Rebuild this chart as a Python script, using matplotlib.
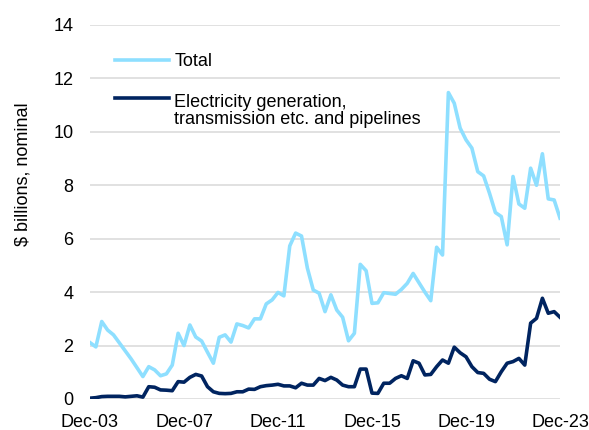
import numpy as np
import matplotlib
matplotlib.use("Agg")
import matplotlib.pyplot as plt
from matplotlib.legend_handler import HandlerLine2D

plt.rcParams['font.family'] = ['Liberation Sans', 'DejaVu Sans']

# quarterly, Dec-03 .. Dec-23 (81 quarters)
total = [2.11, 1.95, 2.9, 2.58, 2.4, 2.1, 1.8, 1.5, 1.17, 0.84,
         1.21, 1.09, 0.87, 0.94, 1.27, 2.46, 2.0, 2.77, 2.32, 2.17,
         1.75, 1.34, 2.31, 2.4, 2.13, 2.81, 2.75, 2.66, 3.0, 3.0,
         3.56, 3.71, 3.99, 3.86, 5.73, 6.21, 6.1, 4.9, 4.08, 3.96,
         3.27, 3.9, 3.33, 3.06, 2.18, 2.46, 5.04, 4.8, 3.58, 3.6,
         3.98, 3.95, 3.92, 4.1, 4.33, 4.7, 4.35, 4.0, 3.68, 5.68,
         5.39, 11.47, 11.07, 10.14, 9.7, 9.39, 8.51, 8.35, 7.7, 6.98,
         6.83, 5.77, 8.33, 7.3, 7.14, 8.64, 8.0, 9.18, 7.49, 7.45,
         6.77]
electricity = [0.03, 0.05, 0.09, 0.1, 0.1, 0.1, 0.08, 0.1, 0.12, 0.07,
               0.46, 0.44, 0.34, 0.33, 0.31, 0.65, 0.63, 0.81, 0.92, 0.86,
               0.46, 0.27, 0.21, 0.2, 0.21, 0.27, 0.27, 0.37, 0.36, 0.46,
               0.5, 0.52, 0.55, 0.49, 0.49, 0.42, 0.59, 0.52, 0.52, 0.77,
               0.69, 0.81, 0.71, 0.52, 0.46, 0.46, 1.12, 1.12, 0.22, 0.21,
               0.59, 0.59, 0.77, 0.87, 0.77, 1.43, 1.34, 0.9, 0.92, 1.21,
               1.46, 1.34, 1.94, 1.73, 1.58, 1.21, 0.99, 0.96, 0.74, 0.65,
               1.02, 1.34, 1.4, 1.52, 1.27, 2.84, 3.02, 3.77, 3.21, 3.27,
               3.06]
tick_labels = ["Dec-03", "Dec-07", "Dec-11", "Dec-15", "Dec-19", "Dec-23"]

x = np.arange(len(total))
FS = 13


class HandlerTop(HandlerLine2D):
    # put the legend line next to the first text line
    def create_artists(self, legend, orig_handle, xdescent, ydescent,
                       width, height, fontsize, trans):
        arts = super().create_artists(legend, orig_handle, xdescent, ydescent,
                                      width, height, fontsize, trans)
        for a in arts:
            a.set_ydata(np.asarray(a.get_ydata()) + 0.69 * fontsize)
        return arts


fig = plt.figure(figsize=(5.89, 4.30), dpi=100)
ax = fig.add_axes([0.1528, 0.0721, 0.798, 0.8698])

ax.plot(x, total, color="#8EDFFF", lw=2.6, label="Total", solid_joinstyle="round")
l2, = ax.plot(x, electricity, color="#002460", lw=2.6,
              label="Electricity generation,\ntransmission etc. and pipelines",
              solid_joinstyle="round")

ax.set_xlim(0, len(total) - 1)
ax.set_ylim(0, 14)
ax.set_yticks(range(0, 15, 2))
ax.set_xticks(x[::16])
ax.set_xticklabels(tick_labels)
ax.grid(axis="y", color="#d9d9d9", lw=1.1)
ax.set_axisbelow(True)
for s in ax.spines.values():
    s.set_visible(False)
ax.tick_params(length=0, labelsize=FS, colors="black")
ax.tick_params(axis="y", pad=12)
ax.tick_params(axis="x", pad=11)
ax.set_ylabel("$ billions, nominal", fontsize=FS)
ax.yaxis.set_label_coords(-0.125, 0.60)

leg = ax.legend(loc="upper left", bbox_to_anchor=(0.053, 0.925), frameon=False,
                fontsize=FS, handlelength=3.0, handletextpad=0.3,
                labelspacing=1.3, borderpad=0, borderaxespad=0,
                handler_map={l2: HandlerTop()})
leg.get_texts()[1].set_linespacing(1.0)

fig.savefig("out.png", dpi=100)
